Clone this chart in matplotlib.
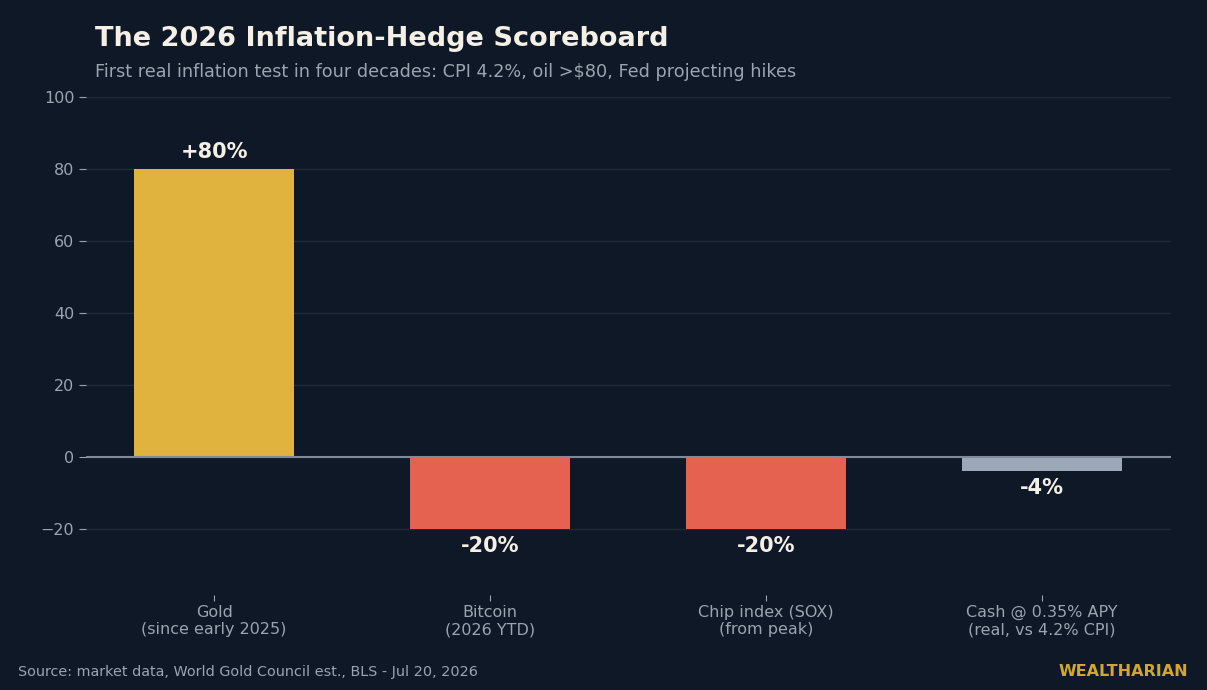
import matplotlib
matplotlib.use("Agg")
import matplotlib.pyplot as plt

categories = ["Gold\n(since early 2025)", "Bitcoin\n(2026 YTD)",
              "Chip index (SOX)\n(from peak)", "Cash @ 0.35% APY\n(real, vs 4.2% CPI)"]
values = [80, -20, -20, -4]
labels = ["+80%", "-20%", "-20%", "-4%"]
colors = ["#e0b23e", "#e56250", "#e56250", "#9aa8b8"]

BG = "#0f1826"
TXT = "#9aa5b1"

fig = plt.figure(figsize=(12.07, 6.9), dpi=100, facecolor=BG)
ax = fig.add_axes([0.0713, 0.1377, 0.8987, 0.7217], facecolor=BG)

x = list(range(len(values)))
ax.bar(x, values, width=0.58, color=colors, zorder=3)
ax.axhline(0, color="#7f8b9b", lw=1.5, zorder=4)

for xi, v, lab in zip(x, values, labels):
    if v >= 0:
        ax.text(xi, v + 2.0, lab, ha="center", va="bottom", color="#f5f0e6",
                fontsize=15, fontweight="bold", zorder=5)
    else:
        ax.text(xi, v - 1.8, lab, ha="center", va="top", color="#f5f0e6",
                fontsize=15, fontweight="bold", zorder=5)

ax.set_xlim(-0.464, 3.467)
ax.set_ylim(-38.3, 100)
ax.set_yticks([-20, 0, 20, 40, 60, 80, 100])
ax.set_xticks(x)
ax.set_xticklabels(categories, color=TXT, fontsize=11.5, linespacing=1.2)
ax.tick_params(axis="y", colors=TXT, labelsize=11.5, length=5, color=TXT)
ax.tick_params(axis="x", colors=TXT, length=4, color=TXT, pad=3)
ax.grid(axis="y", color="#1e293a", lw=1, zorder=0)
for s in ax.spines.values():
    s.set_visible(False)

fig.text(95 / 1207, 1 - 39 / 690, "The 2026 Inflation-Hedge Scoreboard", color="#f5f0e6",
         fontsize=19.5, fontweight="bold", va="center", ha="left")
fig.text(95 / 1207, 1 - 72 / 690,
         "First real inflation test in four decades: CPI 4.2%, oil >$80, Fed projecting hikes",
         color=TXT, fontsize=12.7, va="center", ha="left")
fig.text(18 / 1207, 1 - 672 / 690, "Source: market data, World Gold Council est., BLS - Jul 20, 2026",
         color=TXT, fontsize=10.4, va="center", ha="left")
fig.text(1188 / 1207, 1 - 671 / 690, "WEALTHARIAN", color="#d4a62a", fontsize=11.5,
         fontweight="bold", va="center", ha="right")

fig.savefig("out.png", dpi=100, facecolor=BG)
